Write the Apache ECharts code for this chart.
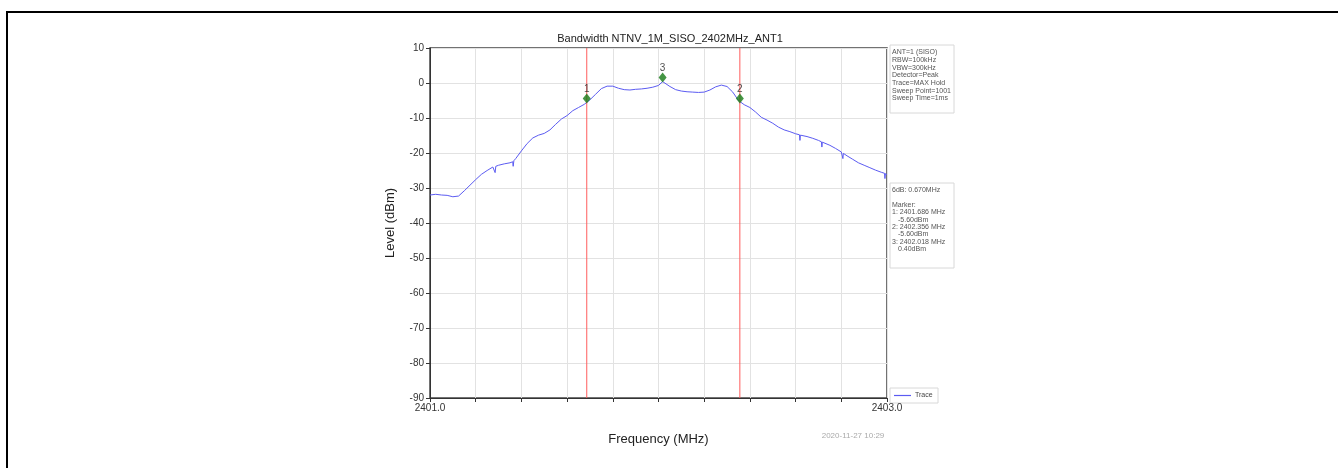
<!DOCTYPE html>
<html>
<head>
<meta charset="utf-8">
<script src="https://cdn.jsdelivr.net/npm/echarts@6/dist/echarts.min.js"></script>
<style>
html,body{margin:0;padding:0;background:#fff;}
#c{width:1338px;height:468px;}
</style>
</head>
<body>
<div id="c"></div>
<script>
var freqs = [2401.000,2401.025,2401.050,2401.075,2401.100,2401.125,2401.150,2401.175,2401.200,2401.225,2401.250,2401.275,
  2401.283,2401.285,2401.288,2401.300,2401.325,2401.350,2401.362,2401.364,2401.367,2401.375,2401.400,2401.425,2401.450,2401.475,
  2401.500,2401.525,2401.550,2401.575,2401.600,2401.625,2401.650,2401.675,2401.700,2401.725,2401.750,2401.775,2401.800,
  2401.825,2401.850,2401.875,2401.900,2401.925,2401.950,2401.975,2402.000,2402.018,2402.025,2402.050,2402.075,2402.100,
  2402.125,2402.150,2402.175,2402.200,2402.225,2402.250,2402.275,2402.300,2402.325,2402.350,2402.375,2402.400,2402.425,
  2402.450,2402.475,2402.500,2402.525,2402.550,2402.575,2402.600,2402.617,2402.619,2402.621,2402.625,2402.650,2402.675,
  2402.700,2402.713,2402.715,2402.717,2402.725,2402.750,2402.775,2402.800,2402.805,2402.807,2402.809,2402.825,2402.850,
  2402.875,2402.900,2402.925,2402.950,2402.975,2402.989,2402.991,2402.993,2403.000];
var levels = [-32.0,-31.8,-32.0,-32.1,-32.5,-32.3,-30.8,-29.2,-27.6,-26.1,-25.0,-24.0,
  -23.9,-25.6,-23.8,-23.5,-23.1,-22.8,-22.5,-23.8,-22.2,-21.6,-19.4,-17.3,-15.7,-14.9,
  -14.4,-13.4,-11.8,-10.3,-9.3,-7.9,-7.0,-6.1,-4.8,-3.2,-1.6,-0.9,-0.9,
  -1.5,-1.9,-2.0,-1.8,-1.7,-1.5,-1.2,-0.7,0.4,-0.1,-1.0,-1.9,-2.3,
  -2.5,-2.6,-2.7,-2.6,-2.0,-1.1,-0.6,-1.0,-2.6,-5.0,-6.2,-7.0,-8.3,
  -9.8,-10.6,-11.5,-12.6,-13.4,-13.9,-14.5,-14.8,-16.4,-14.9,-14.9,-15.3,-15.8,
  -16.4,-16.8,-18.3,-16.9,-17.0,-17.8,-18.7,-19.7,-20.0,-21.6,-20.1,-20.8,-21.8,
  -22.8,-23.5,-24.2,-24.9,-25.5,-25.8,-27.3,-25.9,-26.2];
var markerFreqs = [2401.686, 2402.356, 2402.018];
var markerLevels = [-5.6, -5.6, 0.4];
var markerNames = ['1', '2', '3'];
var boundaryLines = [2401.686, 2402.356];
var xEdgeLabels = [2401.0, 2403.0];
var titleText = 'Bandwidth NTNV_1M_SISO_2402MHz_ANT1';
var settingsLines = ['ANT=1 (SISO)','RBW=100kHz','VBW=300kHz','Detector=Peak','Trace=MAX Hold','Sweep Point=1001','Sweep Time=1ms'];
var resultLines = ['6dB: 0.670MHz','','Marker:','1: 2401.686 MHz','   -5.60dBm','2: 2402.356 MHz','   -5.60dBm','3: 2402.018 MHz','   0.40dBm'];
var dateText = '2020-11-27 10:29';
var Y_MIN = -90, Y_MAX = 10;

var traceData = freqs.map(function(f, i){ return [f, levels[i]]; });
var markerData = markerFreqs.map(function(f, i){ return {value:[f, markerLevels[i]], name: markerNames[i]}; });

var FONT = 'Liberation Sans, Arial, sans-serif';
var chart = echarts.init(document.getElementById('c'));

var graphics = [
  {type:'line', shape:{x1:6, y1:12, x2:1338, y2:12}, style:{stroke:'#000', lineWidth:2}},
  {type:'line', shape:{x1:7, y1:11, x2:7, y2:468}, style:{stroke:'#000', lineWidth:2}},
  {type:'rect', shape:{x:890, y:45, width:64, height:68}, style:{fill:'#fff', stroke:'#d8d8d8', lineWidth:1}},
  {type:'rect', shape:{x:890, y:183, width:64, height:85}, style:{fill:'#fff', stroke:'#d8d8d8', lineWidth:1}},
  {type:'rect', shape:{x:890, y:388, width:48, height:15}, style:{fill:'#fff', stroke:'#d8d8d8', lineWidth:1}},
  {type:'line', shape:{x1:894, y1:395.5, x2:911, y2:395.5}, style:{stroke:'#5b5bf2', lineWidth:1.2}},
  {type:'text', x:915, y:395.5, style:{text:'Trace', font:'7px ' + FONT, fill:'#444', verticalAlign:'middle'}},
  {type:'text', x:853, y:435.5, style:{text:dateText, font:'8px ' + FONT, fill:'#aaa', align:'center', verticalAlign:'middle'}}
];
settingsLines.forEach(function(t, i){
  graphics.push({type:'text', x:892, y:52.5 + i*7.65, style:{text:t, font:'7px ' + FONT, fill:'#555', verticalAlign:'middle'}});
});
resultLines.forEach(function(t, i){
  if (!t) return;
  var indent = t.charAt(0) === ' ' ? 6 : 0;
  graphics.push({type:'text', x:892 + indent, y:190 + i*7.4, style:{text:t.trim(), font:'7px ' + FONT, fill:'#555', verticalAlign:'middle'}});
});

var series = [
  {type:'line', name:'Trace', data:traceData, showSymbol:false, smooth:false,
    lineStyle:{color:'#5b5bf2', width:1}, itemStyle:{color:'#5b5bf2'}, z:3}
];
boundaryLines.forEach(function(f){
  series.push({type:'line', data:[[f, Y_MIN],[f, Y_MAX]], showSymbol:false, silent:true,
    lineStyle:{color:'#ff5c5c', width:1}, itemStyle:{color:'#ff5c5c'}, z:4});
});
series.push({type:'scatter', name:'Markers', data:markerData, symbol:'diamond', symbolSize:[8,10], symbolOffset:[0,-4],
  itemStyle:{color:'#157a15'}, z:5,
  label:{show:true, position:'top', distance:0, formatter:'{b}', fontSize:10, color:'#222', fontFamily:FONT, offset:[0,1]}
});

chart.setOption({
  animation:false,
  backgroundColor:'#fff',
  title:{text:titleText, left:665, top:28, textAlign:'center',
    textStyle:{fontSize:11, fontWeight:'normal', color:'#222', fontFamily:FONT}},
  grid:{left:430, top:48, width:457, height:350, show:true, borderColor:'#444', borderWidth:1.5, backgroundColor:'transparent'},
  xAxis:{type:'value', min:2401, max:2403, interval:0.2,
    name:'Frequency (MHz)', nameLocation:'middle', nameGap:35,
    nameTextStyle:{fontSize:13, color:'#222', fontFamily:FONT},
    axisLine:{show:true, onZero:false, lineStyle:{color:'#333', width:1}},
    axisTick:{show:true, length:4, lineStyle:{color:'#333'}},
    axisLabel:{show:true, showMinLabel:true, showMaxLabel:true, fontSize:10, color:'#333', fontFamily:FONT, margin:5,
      formatter:function(v){
        for (var k=0;k<xEdgeLabels.length;k++){ if (Math.abs(v - xEdgeLabels[k]) < 1e-6) return xEdgeLabels[k].toFixed(1); }
        return '';
      }},
    splitLine:{show:true, lineStyle:{color:'#e2e2e2', width:1}}
  },
  yAxis:{type:'value', min:Y_MIN, max:Y_MAX, interval:10,
    name:'Level (dBm)', nameLocation:'middle', nameGap:33,
    nameTextStyle:{fontSize:13, color:'#222', fontFamily:FONT},
    axisLine:{show:true, onZero:false, lineStyle:{color:'#333', width:1}},
    axisTick:{show:true, length:4, lineStyle:{color:'#333'}},
    axisLabel:{fontSize:10, color:'#333', fontFamily:FONT, margin:6},
    splitLine:{show:true, lineStyle:{color:'#e2e2e2', width:1}}
  },
  series:series,
  graphic:graphics
});
</script>
</body>
</html>
